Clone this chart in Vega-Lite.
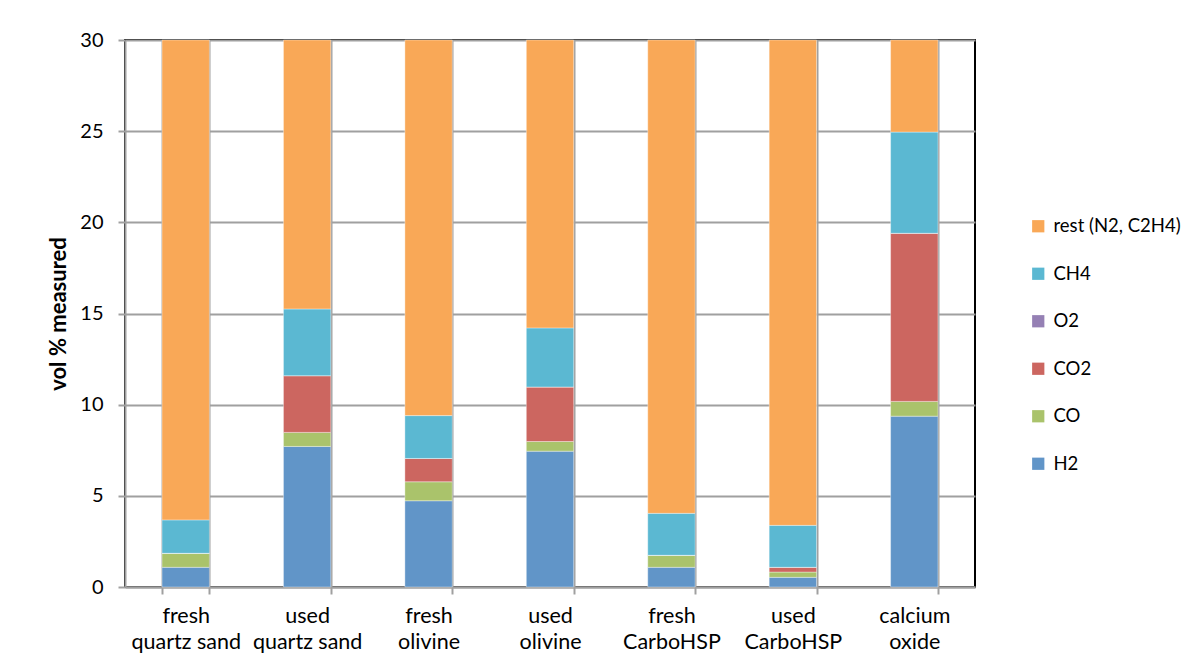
{
  "$schema": "https://vega.github.io/schema/vega-lite/v6.json",
  "width": 850,
  "height": 547,
  "autosize": {"type": "none"},
  "padding": {"left": 125, "top": 40, "right": 229, "bottom": 81},
  "background": "white",
  "config": {
    "font": "Lato",
    "view": {"stroke": "black", "strokeWidth": 2},
    "axis": {
      "gridColor": "#a0a0a0", "gridWidth": 2, "gridOpacity": 1,
      "domainColor": "#a0a0a0", "domainWidth": 2,
      "tickColor": "#a0a0a0", "tickWidth": 2, "tickSize": 7,
      "labelFont": "Lato", "labelFontSize": 20, "labelColor": "black",
      "titleFont": "Lato", "titleColor": "black"
    },
    "legend": {"labelFont": "Lato", "labelFontSize": 18.5, "labelColor": "black"}
  },
  "data": {
    "values": [
      {"material": "fresh quartz sand", "gas": "H2", "value": 1.08},
      {"material": "fresh quartz sand", "gas": "CO", "value": 0.77},
      {"material": "fresh quartz sand", "gas": "CO2", "value": 0},
      {"material": "fresh quartz sand", "gas": "O2", "value": 0},
      {"material": "fresh quartz sand", "gas": "CH4", "value": 1.83},
      {"material": "fresh quartz sand", "gas": "rest (N2, C2H4)", "value": 26.32},
      {"material": "used quartz sand", "gas": "H2", "value": 7.71},
      {"material": "used quartz sand", "gas": "CO", "value": 0.77},
      {"material": "used quartz sand", "gas": "CO2", "value": 3.11},
      {"material": "used quartz sand", "gas": "O2", "value": 0},
      {"material": "used quartz sand", "gas": "CH4", "value": 3.66},
      {"material": "used quartz sand", "gas": "rest (N2, C2H4)", "value": 14.75},
      {"material": "fresh olivine", "gas": "H2", "value": 4.73},
      {"material": "fresh olivine", "gas": "CO", "value": 1.04},
      {"material": "fresh olivine", "gas": "CO2", "value": 1.28},
      {"material": "fresh olivine", "gas": "O2", "value": 0},
      {"material": "fresh olivine", "gas": "CH4", "value": 2.35},
      {"material": "fresh olivine", "gas": "rest (N2, C2H4)", "value": 20.6},
      {"material": "used olivine", "gas": "H2", "value": 7.45},
      {"material": "used olivine", "gas": "CO", "value": 0.53},
      {"material": "used olivine", "gas": "CO2", "value": 2.99},
      {"material": "used olivine", "gas": "O2", "value": 0},
      {"material": "used olivine", "gas": "CH4", "value": 3.24},
      {"material": "used olivine", "gas": "rest (N2, C2H4)", "value": 15.79},
      {"material": "fresh CarboHSP", "gas": "H2", "value": 1.08},
      {"material": "fresh CarboHSP", "gas": "CO", "value": 0.66},
      {"material": "fresh CarboHSP", "gas": "CO2", "value": 0},
      {"material": "fresh CarboHSP", "gas": "O2", "value": 0},
      {"material": "fresh CarboHSP", "gas": "CH4", "value": 2.3},
      {"material": "fresh CarboHSP", "gas": "rest (N2, C2H4)", "value": 25.96},
      {"material": "used CarboHSP", "gas": "H2", "value": 0.53},
      {"material": "used CarboHSP", "gas": "CO", "value": 0.29},
      {"material": "used CarboHSP", "gas": "CO2", "value": 0.26},
      {"material": "used CarboHSP", "gas": "O2", "value": 0},
      {"material": "used CarboHSP", "gas": "CH4", "value": 2.3},
      {"material": "used CarboHSP", "gas": "rest (N2, C2H4)", "value": 26.62},
      {"material": "calcium oxide", "gas": "H2", "value": 9.37},
      {"material": "calcium oxide", "gas": "CO", "value": 0.81},
      {"material": "calcium oxide", "gas": "CO2", "value": 9.22},
      {"material": "calcium oxide", "gas": "O2", "value": 0},
      {"material": "calcium oxide", "gas": "CH4", "value": 5.55},
      {"material": "calcium oxide", "gas": "rest (N2, C2H4)", "value": 5.05}
    ]
  },
  "transform": [
    {"window": [{"op": "row_number", "as": "k"}], "groupby": ["material"]}
  ],
  "mark": {"type": "bar", "stroke": "white", "strokeWidth": 0.6, "strokeOpacity": 0.6},
  "encoding": {
    "x": {
      "field": "material", "type": "nominal", "sort": null,
      "scale": {"paddingInner": 0.61, "paddingOuter": 0.305},
      "axis": {
        "title": null, "labelAngle": 0, "grid": true, "tickBand": "extent",
        "labelFontSize": 21.5,
        "labelPadding": 11, "labelLineHeight": 26, "labelBaseline": "top",
        "labelExpr": "[slice(datum.label, 0, indexof(datum.label, ' ')), slice(datum.label, indexof(datum.label, ' ') + 1)]"
      }
    },
    "y": {
      "field": "value", "type": "quantitative", "stack": "zero",
      "scale": {"domain": [0, 30], "nice": false},
      "axis": {
        "title": "vol % measured", "values": [0, 5, 10, 15, 20, 25, 30],
        "labelPadding": 15, "titleFontSize": 22, "titleFontWeight": "bold", "titlePadding": 9
      }
    },
    "order": {"field": "k", "type": "quantitative", "sort": "ascending"},
    "color": {
      "field": "gas", "type": "nominal",
      "sort": ["rest (N2, C2H4)", "CH4", "O2", "CO2", "CO", "H2"],
      "scale": {
        "domain": ["rest (N2, C2H4)", "CH4", "O2", "CO2", "CO", "H2"],
        "range": ["#F9A857", "#5BB8D2", "#9580B4", "#CC6660", "#AAC36B", "#6195C8"]
      },
      "legend": {
        "title": null, "orient": "none", "legendX": 904, "legendY": 177,
        "symbolType": "square", "symbolSize": 150, "symbolStrokeWidth": 0,
        "labelOffset": 6, "rowPadding": 28.5, "padding": 0
      }
    }
  }
}
